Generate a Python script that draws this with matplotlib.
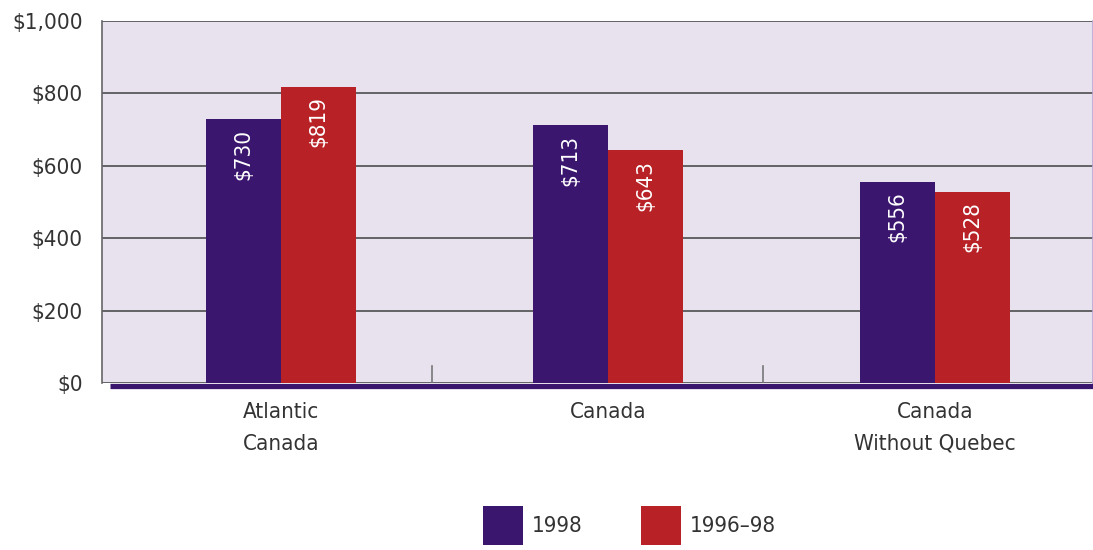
import matplotlib.pyplot as plt
import numpy as np

plt.rcParams['font.family'] = ['DejaVu Sans']
plt.rcParams['font.stretch'] = 'condensed'

# Chart data
categories = ["Atlantic\nCanada", "Canada", "Canada\nWithout Quebec"]
series_names = ["1998", "1996\u201398"]
values_1998 = [730, 713, 556]
values_9698 = [819, 643, 528]
y_ticks = [0, 200, 400, 600, 800, 1000]
y_tick_labels = ["$0", "$200", "$400", "$600", "$800", "$1,000"]

PURPLE = "#3b166f"
RED = "#b82126"
BG = "#e7e2ee"
TXT = "#333333"

fig = plt.figure(figsize=(10.93, 5.5), dpi=100)
ax = fig.add_axes([0.0933, 0.3036, 0.9067, 0.6582])
ax.set_facecolor(BG)

x = np.arange(len(categories))
w = 0.23
b1 = ax.bar(x - w / 2, values_1998, w, color=PURPLE, zorder=3, label=series_names[0])
b2 = ax.bar(x + w / 2, values_9698, w, color=RED, zorder=3, label=series_names[1])

# value labels, rotated, inside the top of each bar
for bars, vals in ((b1, values_1998), (b2, values_9698)):
    for rect, v in zip(bars, vals):
        ax.annotate("$%d" % v, (rect.get_x() + rect.get_width() / 2, v),
                    xytext=(0, -7), textcoords="offset points",
                    rotation=90, ha="center", va="top",
                    color="white", fontsize=16, zorder=4)

ax.set_xlim(-0.547, 2.483)
ax.set_ylim(0, 1000)
ax.set_yticks(y_ticks)
ax.set_yticklabels(y_tick_labels)
ax.set_xticks(x)
ax.set_xticklabels(categories, linespacing=1.7)
ax.tick_params(axis="both", length=0, labelsize=16, labelcolor=TXT)
ax.tick_params(axis="y", pad=14)
ax.tick_params(axis="x", pad=14)

ax.grid(axis="y", color="#4d4d4d", lw=1.2, zorder=1)
for s in ("top", "bottom"):
    ax.spines[s].set_visible(False)
ax.spines["left"].set_color("#666666")
ax.spines["left"].set_linewidth(1.2)
ax.spines["right"].set_color("#b9a6d6")
ax.spines["right"].set_linewidth(1.2)

# group separators
for sx in (0.462, 1.474):
    ax.plot([sx, sx], [0, 48], color="#777777", lw=1.2, zorder=2)

# thick purple baseline
ax.plot([0.008, 1.0], [-0.008, -0.008], transform=ax.transAxes,
        color=PURPLE, lw=3.8, clip_on=False, zorder=5, solid_capstyle="butt")

fig.legend(loc="center", bbox_to_anchor=(0.576, 0.045), ncol=2, frameon=False,
           fontsize=16, handlelength=1.8, handleheight=2.3, columnspacing=2.6,
           handletextpad=0.4, labelcolor=TXT)

fig.savefig("out.png", dpi=100)
